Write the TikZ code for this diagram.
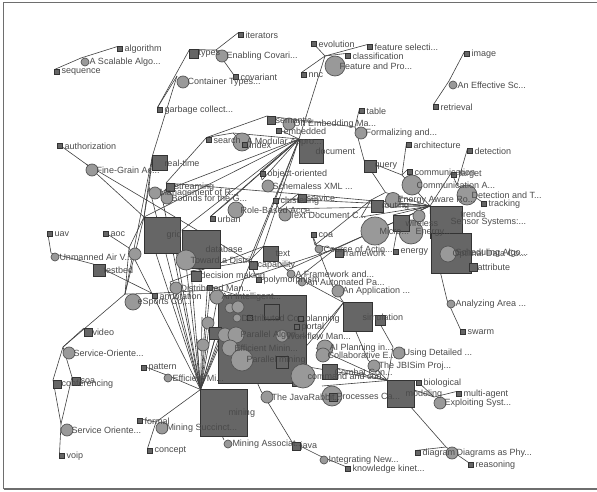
\documentclass[tikz,border=0pt]{standalone}
\usepackage{fontspec}
\setmainfont{Liberation Sans}
\pgfdeclarelayer{bg}
\pgfdeclarelayer{fg}
\pgfsetlayers{bg,main,fg}
\definecolor{linkC}{HTML}{404040}
\definecolor{paperF}{HTML}{999999}
\definecolor{paperD}{HTML}{555555}
\definecolor{topicF}{HTML}{666666}
\definecolor{topicD}{HTML}{333333}
\definecolor{textC}{HTML}{4A4A4A}
\definecolor{frameC}{HTML}{6E6E6E}
\tikzset{
  kw/.style={rectangle, fill=topicF, draw=topicD, line width=0.6pt, minimum size=5pt, inner sep=0pt, outer sep=0pt},
  topic/.style={rectangle, fill=topicF, draw=topicD, line width=0.7pt, inner sep=0pt, outer sep=0pt},
  paper/.style={circle, fill=paperF, draw=paperD, line width=0.7pt, inner sep=0pt, outer sep=0pt},
  lbl/.style={anchor=west, text=textC, font=\fontsize{9}{10}\selectfont, inner sep=0pt, outer sep=0pt},
  link/.style={draw=linkC, line width=0.6pt},
}
% label placed just right of a node's centre, drawn above all shapes
\newcommand\mklab[2]{\begin{pgfonlayer}{fg}\node[lbl] (#1-lbl) at ([xshift=4.5]#1.center) {#2};\end{pgfonlayer}}
% keyword: small square
\newcommand\mkK[4]{\node[kw] (#1) at (#2,#3) {};\mklab{#1}{#4}}
% topic: square of given size
\newcommand\mkT[5]{\node[topic, minimum size=#4] (#1) at (#2,#3) {};\mklab{#1}{#5}}
% paper: circle of given diameter
\newcommand\mkP[5]{\node[paper, minimum size=#4] (#1) at (#2,#3) {};\mklab{#1}{#5}}
% links join the upper-left corners of the nodes' boxes
\newcommand\lnk[2]{\draw[link] (#1.north -| #1.west) -- (#2.north -| #2.west);}
\begin{document}
\begin{tikzpicture}[x=1pt,y=-1pt]
\useasboundingbox (0,0) rectangle (597,492);
\draw[frameC, line width=1.4pt] (3.5,489) -- (3.5,2.5) -- (597,2.5);
\draw[frameC, line width=1.4pt] (3.5,489) -- (597,489);

% ---------- upper left
\mkK{alg}{120}{49}{algorithm}
\mkP{scal}{85}{62}{8}{A Scalable Algo...}
\mkK{seq}{57}{72}{sequence}
\mkT{types}{194}{54}{9}{types}
\mkP{encov}{222}{56}{12}{Enabling Covari...}
\mkK{iter}{241}{35}{iterators}
\mkK{cov}{236}{77}{covariant}
\mkP{cont}{183}{82}{12}{Container Types...}
\mkK{garb}{160}{110}{garbage collect...}
\mkK{auth}{60}{146}{authorization}
\mkP{fga}{92}{170}{12}{Fine-Grain Ac...}
\mkT{rt}{160}{163}{15}{real-time}
\mkP{mgmt}{155}{193}{12}{Management of R...}
\mkT{strm}{170}{187}{8}{streaming}
\mkP{bnd}{167}{198}{12}{Bounds for the G...}

% ---------- upper middle
\mkT{sem}{271}{120}{8}{semantic}
\mkP{oemb}{289}{124}{12}{On Embedding Ma...}
\mkK{emb}{279}{131}{embedded}
\mkK{srch}{209}{140}{search}
\mkP{modu}{242}{142}{18}{A Modular Appro...}
\mkK{idx}{245}{145}{index}
\mkT{doc}{311}{151}{24}{document}
\mkP{form}{361}{133}{12}{Formalizing and...}
\mkK{tab}{362}{111}{table}
\mkT{qry}{370}{166}{12}{query}
\mkP{feat}{335}{66}{20}{Feature and Pro...}
\mkK{evo}{314}{44}{evolution}
\mkK{fsel}{370}{47}{feature selecti...}
\mkK{cls}{348}{56}{classification}
\mkK{nnc}{304}{75}{nnc}

% ---------- upper right
\mkK{img}{467}{54}{image}
\mkP{eff}{453}{85}{8}{An Effective Sc...}
\mkK{retr}{436}{107}{retrieval}
\mkK{arch}{409}{145}{architecture}
\mkK{det}{470}{151}{detection}
\mkK{comm}{410}{172}{communication}
\mkK{tgt}{454}{175}{target}
\mkP{comA}{412}{185}{20}{Communication A...}
\mkP{detT}{467}{195}{20}{Detection and T...}
\mkK{trk}{484}{204}{tracking}
\mkP{enaw}{393}{200}{15}{Energy Aware Ro...}
\mkT{rout}{377}{206}{12}{routing}
\mkP{micro}{375}{231}{28}{Micro...}
\mkP{ener}{411}{232}{24}{Energy...}
\mkT{wsq}{401}{223}{16}{wireless}
\mkP{wls}{419}{216}{12}{}
\mkK{trd}{456}{214}{trends}
\mkT{sens}{446}{222}{32}{Sensor Systems:...}
\mkK{enrg}{396}{252}{energy}
\mkT{sched}{451}{253}{40}{Scheduling Algo...}
\mkP{opt}{448}{254}{16}{Optimal Data Co...}
\mkT{attr}{473}{267}{8}{attribute}
\mkP{anl}{451}{304}{8}{Analyzing Area ...}
\mkK{swm}{463}{332}{swarm}

% ---------- left middle
\mkK{uav}{50}{234}{uav}
\mkK{aoc}{106}{234}{aoc}
\mkP{uavp}{55}{257}{8}{Unmanned Air V...}
\mkP{ps1}{135}{254}{12}{}
\mkT{tb}{99}{270}{12}{testbed}
\mkT{grid}{162}{235}{36}{grid}
\mkT{dbase}{201}{249}{38}{database}
\mkP{toward}{186}{260}{20}{Toward a Distri...}
\mkT{dm}{196}{276}{10}{decision making}
\mkP{es}{133}{302}{16}{eSports Co...}
\mkK{annot}{155}{296}{annotation}
\mkP{ps2}{176}{288}{12}{Distributed Man...}
\mkP{role}{236}{210}{16}{Role-Based Acce...}
\mkK{urb}{213}{219}{urban}
\mkK{oo}{263}{174}{object-oriented}
\mkP{schm}{268}{186}{12}{Schemaless XML ...}
\mkK{clus}{276}{201}{clustering}
\mkT{serv}{302}{198}{8}{service}
\mkP{ps3}{285}{215}{12}{Text Document C...}
\mkT{txt}{271}{254}{15}{text}
\mkT{cap}{253}{265}{8}{capability}
\mkK{poly}{259}{280}{polymorphism}
\mkK{coa}{314}{235}{coa}
\mkP{coac}{319}{249}{8}{Course of Actio...}
\mkT{frw}{339}{253}{8}{framework}
\mkP{afw}{291}{274}{8}{A Framework and...}
\mkP{autp}{302}{282}{8}{An Automated Pa...}
\mkP{appl}{338}{291}{12}{An Application ...}
\mkT{simu}{358}{317}{29}{simulation}
\mkT{simb}{380}{320}{10}{}

% ---------- centre
\mkT{big}{262}{339}{88}{}
\mkK{ka}{210}{288}{}
\mkP{ca}{217}{297}{14}{An Intelligent...}
\mkP{cb}{230}{308}{10}{}
\mkP{cc}{238}{307}{12}{}
\mkP{cd}{237}{318}{8}{Distributed Co...}
\mkK{kb}{250}{318}{}
\mkT{ta}{272}{312}{15}{}
\mkK{plan}{301}{319}{planning}
\mkK{port}{297}{327}{portal}
\mkP{ce}{208}{323}{12}{}
\mkT{tc}{215}{333}{12}{}
\mkP{cf}{203}{345}{12}{}
\mkP{cg}{225}{335}{14}{}
\mkP{palg}{236}{335}{16}{Parallel Algori...}
\mkP{effmin}{230}{348}{16}{Efficient Minin...}
\mkP{pmin}{242}{360}{22}{Parallel mining}
\mkP{wfm}{282}{336}{12}{Workflow Man...}
\mkT{tsa}{282}{362}{12}{}
\mkT{tsb}{298}{380}{12}{}
\mkP{aip}{325}{348}{16}{AI Planning in...}
\mkP{collab}{323}{355}{14}{Collaborative E...}
\mkP{usd}{399}{353}{12}{Using Detailed ...}
\mkP{jbi}{374}{366}{12}{The JBISim Proj...}
\mkP{cmd}{303}{376}{24}{command and con...}
\mkT{cmb}{330}{372}{15}{Combat Con...}
\mkP{proc}{332}{396}{20}{Processes Ca...}
\mkT{procsq}{333}{397}{8}{}
\mkP{jr}{267}{397}{12}{The JavaRabbit...}
\mkT{model}{401}{394}{27}{modeling}
\mkK{bio}{419}{383}{biological}
\mkK{magt}{459}{394}{multi-agent}
\mkP{expl}{440}{403}{12}{Exploiting Syst...}
\mkK{diag}{418}{453}{diagram}
\mkP{diap}{452}{453}{12}{Diagrams as Phy...}
\mkK{reas}{471}{465}{reasoning}
\mkT{java}{296}{446}{8}{java}
\mkP{integ}{324}{460}{8}{Integrating New...}
\mkK{kkin}{348}{469}{knowledge kinet...}

% ---------- lower left
\mkT{video}{88}{332}{8}{video}
\mkP{soa1}{69}{353}{12}{Service-Oriente...}
\mkT{conf}{57}{384}{8}{conferencing}
\mkT{soa}{76}{381}{8}{soa}
\mkP{soa2}{67}{430}{12}{Service Oriente...}
\mkK{voip}{62}{456}{voip}
\mkK{patt}{144}{368}{pattern}
\mkP{effm}{168}{378}{8}{Efficient Mi...}
\mkT{mining}{224}{413}{47}{mining}
\mkK{formal}{140}{421}{formal}
\mkP{msuc}{162}{428}{12}{Mining Succinct...}
\mkK{conc}{150}{451}{concept}
\mkP{masc}{228}{444}{8}{Mining Associat...}

% ---------- links
\begin{pgfonlayer}{bg}
\foreach \a/\b in {seq/scal, scal/alg,
  types/encov, encov/iter, encov/cov, types/garb, garb/cont, cont/rt,
  auth/fga, fga/grid, fga/cap, rt/grid, rt/mgmt, rt/es,
  mgmt/grid, strm/serv, bnd/doc, srch/strm,
  srch/sem, srch/modu, sem/oemb, idx/modu, modu/doc, emb/doc, oemb/form, form/tab, form/qry,
  feat/evo, feat/fsel, feat/cls, feat/nnc, feat/doc,
  img/eff, eff/retr,
  arch/comA, comm/comA, comA/sens, comA/qry, qry/enaw, enaw/rout, enaw/sens,
  detT/det, detT/tgt, detT/trk, tgt/sens,
  rout/sens, micro/sens, wsq/sens, ener/sens, wls/sens, trd/sens, enrg/ener, micro/rout,
  sens/sched, opt/sched, attr/sched, sched/anl, anl/swm,
  serv/sens, clus/sens, ps3/sens, schm/oo, schm/doc, oo/doc, clus/ps3, serv/ps3,
  doc/grid, doc/dbase, doc/urb, doc/cap, doc/txt, doc/mining, role/urb, role/doc,
  uav/uavp, uavp/tb, aoc/ps1, ps1/grid, ps1/es, tb/annot, es/grid, es/soa1, soa1/video,
  soa1/conf, soa1/soa, conf/soa2, soa/soa2, soa2/voip,
  annot/ca, es/annot,
  mining/grid, mining/dbase, mining/toward, mining/dm, mining/ps2, mining/ca, mining/cb,
  mining/cc, mining/cd, mining/cf, mining/tc, mining/ce, mining/cg, mining/ka,
  mining/effm, mining/msuc, mining/masc, mining/ps1, mining/mgmt, mining/bnd, mining/big,
  patt/effm, formal/msuc, conc/msuc,
  txt/cap, cap/poly, txt/afw, ps2/txt, dm/cap, frw/ca,
  coa/coac, coa/appl, coac/frw, coac/rout, frw/sens, afw/sens, autp/frw, autp/simu, appl/simu, afw/autp,
  simu/jbi, simu/cmd, simb/usd, simu/aip,
  big/jr, jr/java, java/integ, integ/kkin,
  model/diap, diag/diap, diap/reas, model/bio, bio/expl, magt/expl, model/expl,
  model/jbi, model/cmd, model/proc, model/usd, model/collab, model/cmb,
  big/kb, big/plan, big/port, big/wfm, ta/plan, ka/ta}
  {\lnk{\a}{\b}}
\end{pgfonlayer}
\end{tikzpicture}
\end{document}
